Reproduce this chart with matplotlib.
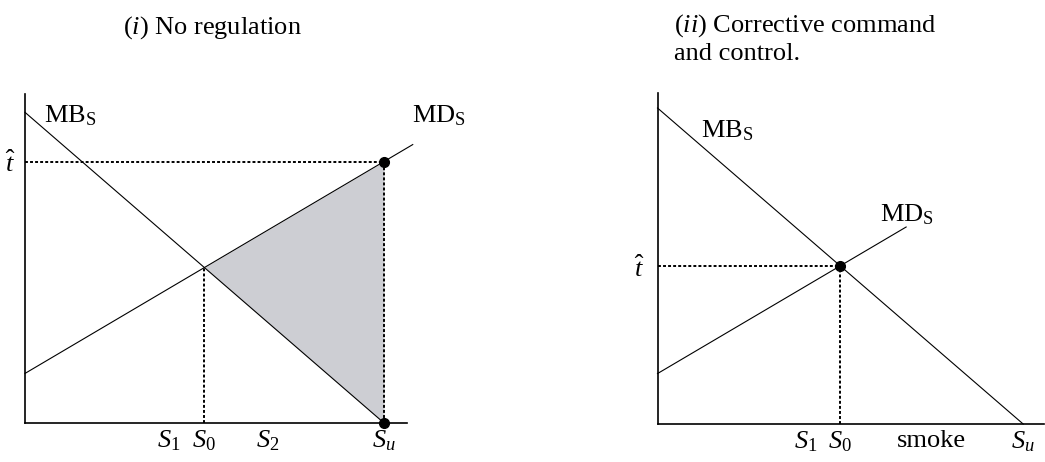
import numpy as np
import matplotlib.pyplot as plt

plt.rcParams['font.family'] = ['Liberation Serif', 'DejaVu Serif']
plt.rcParams['mathtext.fontset'] = 'custom'
plt.rcParams['mathtext.rm'] = 'Liberation Serif'
plt.rcParams['mathtext.it'] = 'Liberation Serif:italic'

# the two curves (same in both panels)
mb_top = 8.65      # MB_S with no smoke
md_base = 1.38     # MD_S with no smoke
md_slope = 0.59
s_u = 10.0         # unregulated smoke, where MB_S hits zero
md_end = [10.8, 6.8]   # how far MD_S is drawn in each panel

# other labelled points on the smoke axis
left_s1, left_s2 = 4.0, 6.75
right_s1, right_smoke = 4.06, 7.48


def mb(s):
    return mb_top * (1 - s / s_u)


def md(s):
    return md_base + md_slope * s


s0 = (mb_top - md_base) / (md_slope + mb_top / s_u)

fig = plt.figure(figsize=(10.45, 4.62), dpi=100)
ax1 = fig.add_axes([25 / 1045, 39 / 462, 382 / 1045, 329 / 462])
ax2 = fig.add_axes([657.5 / 1045, 38 / 462, 386.5 / 1045, 331 / 462])
ax1.set_xlim(0, 10.64)
ax1.set_ylim(0, 9.16)
ax2.set_xlim(0, 10.57)
ax2.set_ylim(0, 9.06)

dots = dict(color='k', lw=1.4, linestyle=(0, (1.5, 1.1)))
solid = dict(color='k', lw=0.8, clip_on=False)

for ax in (ax1, ax2):
    for side in ('top', 'right'):
        ax.spines[side].set_visible(False)
    for side in ('left', 'bottom'):
        ax.spines[side].set_linewidth(1.2)
    ax.tick_params(length=0, labelsize=19)
    ax.tick_params(axis='x', pad=4)

# (i) no regulation
sf = np.array([s0, s_u])
ax1.fill_between(sf, mb(sf), md(sf), color='#cdced3', lw=0)
s = np.array([0, s_u])
ax1.plot(s, mb(s), **solid)
s = np.array([0, md_end[0]])
ax1.plot(s, md(s), **solid)
t_hat = md(s_u)
ax1.plot([0, s_u], [t_hat, t_hat], **dots)
ax1.plot([s_u, s_u], [0, t_hat], **dots)
ax1.plot([s0, s0], [0, md(s0)], **dots)
ax1.plot([s_u, s_u], [t_hat, 0], 'ko', ms=7, clip_on=False, zorder=5)
ax1.set_xticks([left_s1, s0, left_s2, s_u], [r'$S_1$', r'$S_0$', r'$S_2$', r'$S_u$'])
ax1.set_yticks([t_hat], [r'$\hat{t}$'])
ax1.tick_params(axis='y', pad=6)
ax1.text(0.53, 8.36, r'$\mathrm{MB}_\mathrm{S}$', fontsize=19, va='baseline')
ax1.text(10.78, 8.36, r'$\mathrm{MD}_\mathrm{S}$', fontsize=19, va='baseline')

# (ii) corrective command and control
s = np.array([0, s_u])
ax2.plot(s, mb(s), **solid)
s = np.array([0, md_end[1]])
ax2.plot(s, md(s), **solid)
t_hat = md(s0)
ax2.plot([0, s0], [t_hat, t_hat], **dots)
ax2.plot([s0, s0], [0, t_hat], **dots)
ax2.plot([s0], [t_hat], 'ko', ms=7, zorder=5)
ax2.set_xticks([right_s1, s0, right_smoke, s_u], [r'$S_1$', r'$S_0$', 'smoke', r'$S_u$'])
ax2.set_yticks([t_hat], [r'$\hat{t}$'])
ax2.tick_params(axis='y', pad=9)
ax2.text(1.19, 7.85, r'$\mathrm{MB}_\mathrm{S}$', fontsize=19, va='baseline')
ax2.text(6.09, 5.55, r'$\mathrm{MD}_\mathrm{S}$', fontsize=19, va='baseline')

fig.text(212.5 / 1045, 1 - 34 / 462, r'($i$) No regulation', fontsize=19,
         ha='center', va='baseline')
fig.text(674 / 1045, 1 - 12 / 462, '($ii$) Corrective command\nand control.',
         fontsize=19, ha='left', va='top', linespacing=1.25)

fig.savefig('out.png', dpi=100)
